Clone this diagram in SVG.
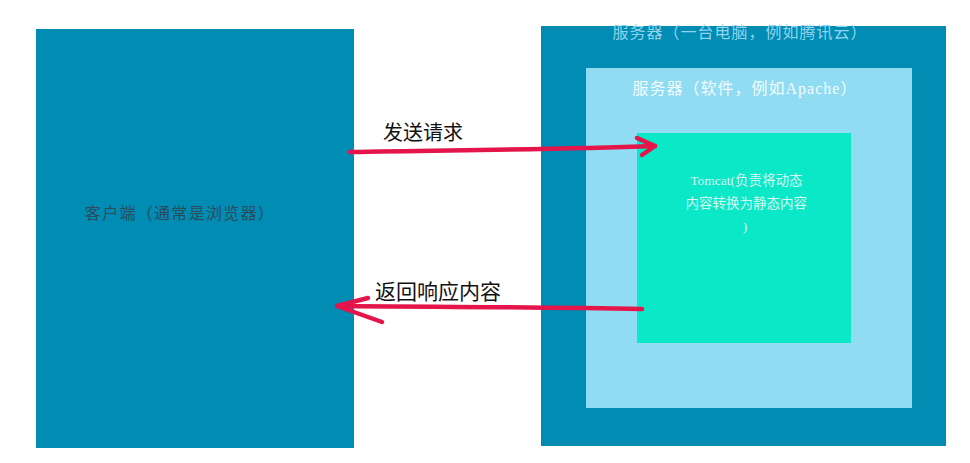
<svg xmlns="http://www.w3.org/2000/svg" width="970" height="463" viewBox="0 0 970 463">
<style>
.serif{font-family:"Liberation Serif","Noto Sans CJK SC",serif;}
.sans{font-family:"Liberation Sans","Noto Sans CJK SC",sans-serif;}
.arrow{fill:none;stroke:#e3154b;stroke-width:4.5;stroke-linecap:round;stroke-linejoin:round;}
</style>
<rect width="970" height="463" fill="#ffffff"/>
<g id="client">
<rect x="36" y="29" width="318" height="419" fill="#018cb4"/>
<text class="serif" x="180" y="219" font-size="16" letter-spacing="1.3" fill="#2b4b5c" text-anchor="middle">客户端（通常是浏览器）</text>
</g>
<g id="server-machine">
<rect x="541" y="26" width="405" height="420" fill="#018cb4"/>
<text class="serif" x="740" y="38" font-size="16" letter-spacing="1" fill="#8fd4ec" text-anchor="middle">服务器（一台电脑，例如腾讯云）</text>
</g>
<g id="server-software">
<rect x="586" y="68" width="326" height="340" fill="#90dcf2"/>
<text class="serif" x="745" y="94" font-size="16" letter-spacing="1" fill="#f4fbfe" text-anchor="middle">服务器（软件，例如Apache）</text>
</g>
<g id="tomcat">
<rect x="637" y="133" width="214" height="210" fill="#0ae8c8"/>
<text class="serif" font-size="13.5" fill="#d8f7ee" text-anchor="middle">
<tspan x="748" y="185">Tomcat(负责将动态</tspan>
<tspan x="748" y="208">内容转换为静态内容</tspan>
<tspan x="745" y="231">)</tspan>
</text>
</g>
<g id="connectors">
<path class="arrow" d="M350 152 C450 150 540 150 655 146"/>
<path class="arrow" d="M637 138 L655 146 L642 155"/>
<path class="arrow" d="M642 309 C540 307 450 307 337 306"/>
<path class="arrow" d="M368 298 L337 306 L382 322"/>
<text class="sans" x="383" y="140" font-size="20" fill="#111">发送请求</text>
<text class="sans" x="375" y="299" font-size="21" fill="#111">返回响应内容</text>
</g>
</svg>
